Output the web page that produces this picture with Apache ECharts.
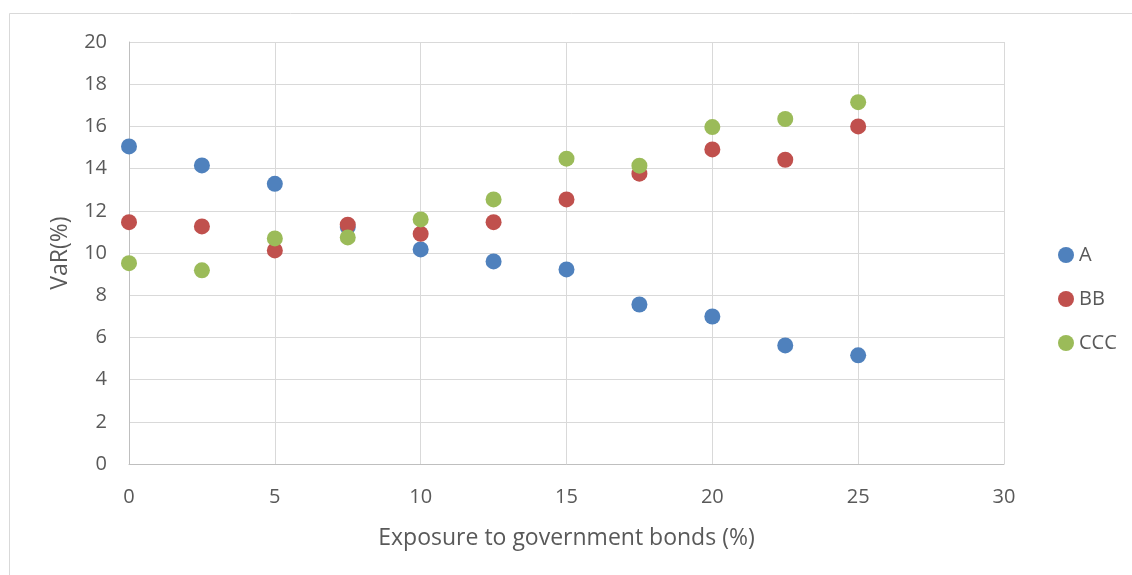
<!DOCTYPE html>
<html>
<head>
<meta charset="utf-8">
<script src="https://cdn.jsdelivr.net/npm/echarts@6/dist/echarts.min.js"></script>
<style>
  html, body { margin: 0; padding: 0; background: #fff; }
  #chart { width: 1132px; height: 575px; }
</style>
</head>
<body>
<div id="chart"></div>
<script>
// Exposure to government bonds (%)
const exposure = [0, 2.5, 5, 7.5, 10, 12.5, 15, 17.5, 20, 22.5, 25];
// VaR (%) by rating
const varA   = [15.05, 14.15, 13.28, 11.23, 10.17, 9.60, 9.22, 7.56, 6.99, 5.62, 5.15];
const varBB  = [11.46, 11.26, 10.12, 11.34, 10.91, 11.46, 12.54, 13.76, 14.91, 14.42, 16.00];
const varCCC = [9.52, 9.18, 10.69, 10.74, 11.59, 12.54, 14.47, 14.14, 15.97, 16.35, 17.15];
const seriesNames = ['A', 'BB', 'CCC'];
const seriesColors = ['#4F81BD', '#C0504D', '#9BBB59'];

const pairs = vals => exposure.map((x, i) => [x, vals[i]]);
const font = '"Open Sans", sans-serif';
const textColor = '#595959';

const chart = echarts.init(document.getElementById('chart'), null, { renderer: 'canvas' });
chart.setOption({
  animation: false,
  backgroundColor: '#fff',
  graphic: [{
    type: 'rect',
    shape: { x: 9.5, y: 13.5, width: 1200, height: 700 },
    style: { fill: 'none', stroke: '#D9D9D9', lineWidth: 1 },
    silent: true
  }],
  grid: { left: 129, top: 42, width: 875, height: 422 },
  legend: {
    orient: 'vertical',
    left: 1053,
    top: 240,
    itemWidth: 16,
    itemHeight: 16,
    itemGap: 24,
    icon: 'circle',
    textStyle: { color: textColor, fontFamily: font, fontSize: 20 },
    data: seriesNames
  },
  xAxis: {
    type: 'value',
    min: 0, max: 30, interval: 5,
    name: 'Exposure to government bonds (%)',
    nameLocation: 'middle',
    nameGap: 63,
    nameTextStyle: { color: textColor, fontFamily: font, fontSize: 23 },
    axisLine: { show: true, onZero: false, lineStyle: { color: '#BFBFBF', width: 1 } },
    axisTick: { show: false },
    axisLabel: { color: textColor, fontFamily: font, fontSize: 20, margin: 23 },
    splitLine: { show: true, lineStyle: { color: '#D9D9D9', width: 1 } }
  },
  yAxis: {
    type: 'value',
    min: 0, max: 20, interval: 2,
    name: 'VaR(%)',
    nameLocation: 'middle',
    nameGap: 57,
    nameRotate: 90,
    nameTextStyle: { color: textColor, fontFamily: font, fontSize: 23 },
    axisLine: { show: true, lineStyle: { color: '#BFBFBF', width: 1 } },
    axisTick: { show: false },
    axisLabel: { color: textColor, fontFamily: font, fontSize: 20, margin: 22 },
    splitLine: { show: true, lineStyle: { color: '#D9D9D9', width: 1 } }
  },
  series: [varA, varBB, varCCC].map((vals, i) => ({
    name: seriesNames[i],
    type: 'scatter',
    symbol: 'circle',
    symbolSize: 16,
    itemStyle: { color: seriesColors[i], opacity: 1 },
    data: pairs(vals)
  }))
});
</script>
</body>
</html>
